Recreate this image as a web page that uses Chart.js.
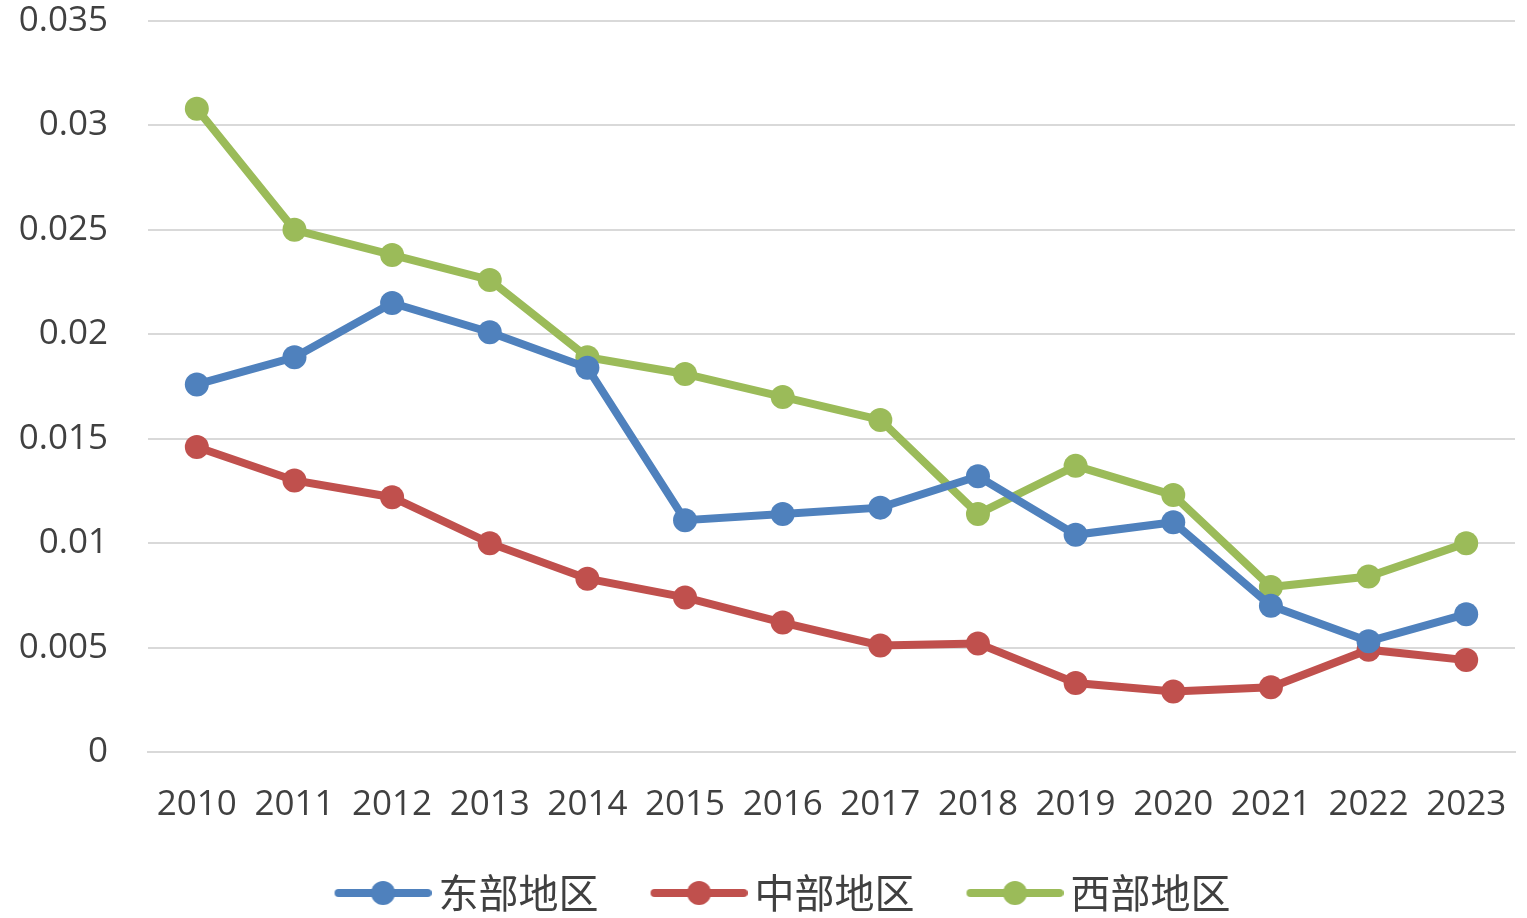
<!DOCTYPE html>
<html><head><meta charset="utf-8">
<script src="https://cdn.jsdelivr.net/npm/chart.js@4.4.0/dist/chart.umd.min.js"></script>
<style>html,body{margin:0;padding:0;background:#fff;}#wrap{width:1527px;height:918px;}</style>
</head><body><div id="wrap"><canvas id="c" width="1527" height="918"></canvas></div>
<script>
const years = ['2010','2011','2012','2013','2014','2015','2016','2017','2018','2019','2020','2021','2022','2023'];
const east = [0.0176,0.0189,0.0215,0.0201,0.0184,0.0111,0.0114,0.0117,0.0132,0.0104,0.0110,0.0070,0.0053,0.0066];
const central = [0.0146,0.0130,0.0122,0.0100,0.0083,0.0074,0.0062,0.0051,0.0052,0.0033,0.0029,0.0031,0.0049,0.0044];
const west = [0.0308,0.0250,0.0238,0.0226,0.0189,0.0181,0.0170,0.0159,0.0114,0.0137,0.0123,0.0079,0.0084,0.0100];
const seriesNames = ['东部地区','中部地区','西部地区'];
const colors = ['#4F81BD','#C0504D','#9BBB59'];

function legendIcon(color){
  const P = 61, V = 97;
  const cv = document.createElement('canvas');
  cv.width = P + V; cv.height = 28;
  const g = cv.getContext('2d');
  g.strokeStyle = color; g.lineWidth = 8; g.lineCap = 'round';
  g.beginPath(); g.moveTo(P+4,14); g.lineTo(P+V-4,14); g.stroke();
  g.fillStyle = color; g.beginPath(); g.arc(P+V/2,14,12,0,Math.PI*2); g.fill();
  return cv;
}
const icons = colors.map(legendIcon);

const datasets = [east, central, west].map((d,i)=>({
  label: seriesNames[i], data: d,
  borderColor: colors[i], backgroundColor: colors[i],
  borderWidth: 8, pointRadius: 12, pointHoverRadius: 12,
  pointBorderWidth: 0, tension: 0, fill: false
}));

new Chart(document.getElementById('c'), {
  type: 'line',
  data: { labels: years, datasets },
  options: {
    responsive: false, animation: false, devicePixelRatio: 1,
    layout: { padding: { top: 2, right: 10, left: 0, bottom: -5 } },
    plugins: {
      tooltip: { enabled: false },
      legend: {
        position: 'bottom',
        labels: {
          usePointStyle: true, pointStyleWidth: 132,
          padding: 4,
          color: '#404040',
          font: { family: '"Noto Sans CJK SC", sans-serif', size: 40, lineHeight: 1 },
          generateLabels: (chart) => chart.data.datasets.map((ds,i)=>({
            text: ds.label, pointStyle: icons[i], fillStyle: colors[i], strokeStyle: colors[i],
            lineWidth: 0, datasetIndex: i, fontColor: '#404040'
          }))
        }
      }
    },
    scales: {
      x: {
        offset: true,
        grid: { display: false, drawTicks: true, tickLength: 32, tickColor: 'rgba(0,0,0,0)' },
        border: { display: true, color: '#D9D9D9', width: 2 },
        ticks: { color: '#404040', font: { family: '"Open Sans", sans-serif', size: 35 }, padding: 0, maxRotation: 0, autoSkip: false },
        afterFit: (s) => { s.height = 117; }
      },
      y: {
        min: 0, max: 0.035,
        grid: { color: '#D9D9D9', lineWidth: 2, drawTicks: true, tickLength: 40, tickColor: 'rgba(0,0,0,0)' },
        border: { display: false },
        ticks: { stepSize: 0.005, color: '#404040', font: { family: '"Open Sans", sans-serif', size: 35 }, padding: 0,
          callback: (v) => { const r = Math.round(v*1000)/1000; return r === 0 ? '0' : String(r); } },
        afterFit: (s) => { s.width = 148; }
      }
    }
  }
});
</script></body></html>
